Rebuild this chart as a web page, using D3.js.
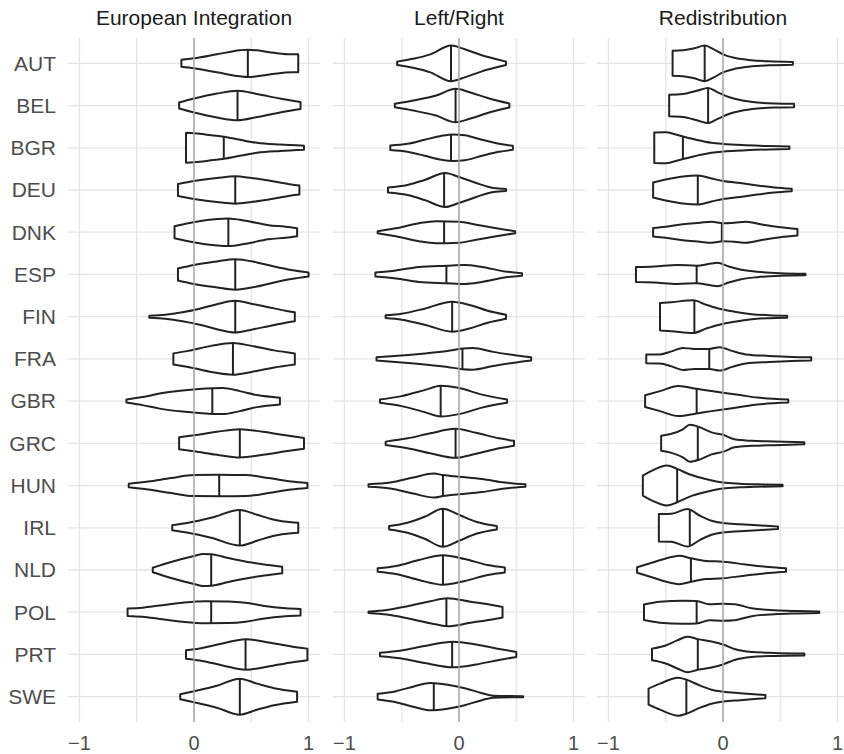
<!DOCTYPE html>
<html><head><meta charset="utf-8">
<script src="https://cdn.jsdelivr.net/npm/d3@7"></script>
<style>body{margin:0;background:#fff}svg{display:block}</style>
</head><body>
<svg id="c" width="844" height="754"></svg>
<script>
const countries = ["AUT","BEL","BGR","DEU","DNK","ESP","FIN","FRA","GBR","GRC","HUN","IRL","NLD","POL","PRT","SWE"];
const panels = ["European Integration","Left/Right","Redistribution"];
const xTicks = [-1, 0, 1];
const xGrid = [-1, -0.5, 0, 0.5, 1];

// medians per panel, in country order
const medianEI = [0.47,0.38,0.26,0.36,0.30,0.36,0.36,0.34,0.16,0.40,0.22,0.40,0.15,0.15,0.45,0.40];
const medianLR = [-0.07,-0.03,-0.07,-0.13,-0.13,-0.11,-0.06,0.03,-0.16,-0.03,-0.14,-0.14,-0.14,-0.11,-0.06,-0.22];
const medianRD = [-0.16,-0.13,-0.35,-0.22,-0.01,-0.23,-0.25,-0.12,-0.23,-0.22,-0.40,-0.29,-0.28,-0.23,-0.22,-0.32];

// density profiles: [position, density] (first/last = trimmed range)
const densityEI = [
 [[-0.11,3.5],[0,5],[0.2,9],[0.4,13],[0.47,13.7],[0.55,13],[0.7,10.5],[0.85,9],[0.91,9]],
 [[-0.13,3],[0,7],[0.2,12],[0.38,14.7],[0.55,11.5],[0.75,7],[0.93,3.5]],
 [[-0.07,15],[0.05,14],[0.15,12.5],[0.26,11],[0.4,8],[0.55,5],[0.75,3.2],[0.96,2]],
 [[-0.14,6],[0,9],[0.2,12],[0.36,13.7],[0.5,12],[0.7,8.5],[0.85,5.5],[0.92,4.5]],
 [[-0.17,6],[-0.05,9],[0.1,12],[0.3,13.8],[0.45,11.5],[0.65,7],[0.8,5.5],[0.9,4]],
 [[-0.14,6],[0,9.5],[0.2,13],[0.36,15.3],[0.55,12],[0.7,8],[0.85,4.5],[1.0,2]],
 [[-0.39,1],[-0.25,2],[-0.1,4.5],[0.05,8],[0.2,12.5],[0.36,15.8],[0.5,13],[0.65,9.5],[0.8,6],[0.88,4.5]],
 [[-0.18,5.5],[-0.05,8],[0.15,13],[0.34,15.8],[0.5,13],[0.7,8.5],[0.88,5.5]],
 [[-0.59,1.5],[-0.45,4],[-0.3,7.5],[-0.1,10.5],[0.16,12.8],[0.25,13],[0.4,10],[0.55,6],[0.75,3.3]],
 [[-0.13,6],[0,8],[0.2,11.5],[0.4,14.2],[0.6,11.5],[0.8,8],[0.96,5.3]],
 [[-0.57,1.7],[-0.4,4],[-0.2,7.5],[0,10.5],[0.22,10.7],[0.45,10.5],[0.65,7.5],[0.85,4],[0.99,2.5]],
 [[-0.19,2.5],[-0.05,5],[0.15,10],[0.4,17.8],[0.55,13],[0.7,8],[0.85,5.5],[0.91,5]],
 [[-0.36,2.3],[-0.2,8],[0,14],[0.08,16],[0.15,15.7],[0.3,12],[0.5,7.5],[0.65,5],[0.77,3.2]],
 [[-0.58,3.7],[-0.45,4.5],[-0.3,6.7],[-0.1,9.5],[0.1,11],[0.3,10.8],[0.45,9.5],[0.6,6.5],[0.8,4],[0.93,3.3]],
 [[-0.07,4.2],[0.05,6],[0.25,11],[0.45,15.3],[0.65,12],[0.85,8],[0.99,5.8]],
 [[-0.12,2.5],[0,5.5],[0.2,11],[0.4,18],[0.55,13],[0.7,8.5],[0.9,5]]
];
const densityLR = [
 [[-0.54,1.7],[-0.4,4.5],[-0.25,9],[-0.07,17.8],[0.05,14],[0.2,8],[0.33,4],[0.41,1.7]],
 [[-0.56,1.7],[-0.4,5],[-0.2,10],[-0.03,16.7],[0.1,13],[0.25,7.5],[0.44,2]],
 [[-0.6,2.3],[-0.45,4],[-0.3,8],[-0.15,12],[-0.05,13.3],[0.05,12.5],[0.2,8],[0.35,4],[0.47,2]],
 [[-0.62,2.5],[-0.45,5],[-0.3,10],[-0.12,17],[0,13],[0.15,7],[0.3,2],[0.41,1]],
 [[-0.71,1],[-0.55,4],[-0.35,9],[-0.2,11],[0,10.5],[0.15,7.5],[0.3,4.5],[0.49,1]],
 [[-0.73,2],[-0.55,4],[-0.35,7.5],[-0.11,8.8],[0.05,9.5],[0.2,7.5],[0.4,3],[0.55,1.3]],
 [[-0.64,1.3],[-0.5,3],[-0.3,8],[-0.06,15],[0.1,11.5],[0.25,6],[0.41,2]],
 [[-0.72,1.7],[-0.5,3.5],[-0.3,5.5],[-0.1,8],[0.03,10.3],[0.12,10.8],[0.3,7],[0.5,3.5],[0.63,1.7]],
 [[-0.69,1.7],[-0.5,5],[-0.3,11],[-0.16,15.3],[0,13],[0.2,6.5],[0.42,1.7]],
 [[-0.64,1.7],[-0.45,5],[-0.25,10],[-0.03,14.5],[0.15,10.5],[0.35,5],[0.48,2.5]],
 [[-0.79,1.3],[-0.6,3],[-0.4,8],[-0.22,12],[-0.14,10.5],[0,8.8],[0.2,6.5],[0.4,3],[0.58,1.3]],
 [[-0.61,1.7],[-0.45,5],[-0.3,11],[-0.14,19],[0,13],[0.15,6],[0.33,1.7]],
 [[-0.71,1.7],[-0.55,4],[-0.35,10],[-0.14,14.7],[0.05,11],[0.25,5],[0.4,2.5]],
 [[-0.79,0.7],[-0.63,2.3],[-0.45,6],[-0.25,11],[-0.1,14],[0.1,10.5],[0.3,7],[0.38,5.3]],
 [[-0.69,1.7],[-0.5,4],[-0.3,8.5],[-0.05,12.8],[0.15,10],[0.35,5.5],[0.5,2.5]],
 [[-0.71,2.8],[-0.55,5.5],[-0.4,10],[-0.25,13.7],[-0.1,12],[0.05,8.5],[0.2,3.5],[0.3,1],[0.56,0.5]]
];
const densityRD = [
 [[-0.44,12.5],[-0.35,13],[-0.25,15],[-0.16,17.8],[-0.08,14],[0,9],[0.1,5.5],[0.25,3],[0.4,2],[0.61,1.3]],
 [[-0.47,10.8],[-0.35,11.5],[-0.22,15],[-0.13,17.5],[-0.05,13.5],[0.05,8.5],[0.15,5.5],[0.3,3],[0.45,2],[0.62,1.7]],
 [[-0.6,15.3],[-0.5,15.5],[-0.42,13.5],[-0.35,11.3],[-0.25,8.5],[-0.1,5],[0,3.8],[0.2,2.5],[0.4,1.7],[0.58,1.3]],
 [[-0.61,7.5],[-0.5,10.5],[-0.35,13.5],[-0.22,14.5],[-0.1,11.5],[0,9],[0.15,7],[0.3,4.5],[0.45,2.5],[0.6,1.3]],
 [[-0.61,4.2],[-0.5,5.5],[-0.35,8],[-0.2,9.5],[-0.1,10.5],[0,9],[0.1,9.5],[0.2,10.5],[0.35,7.5],[0.5,5],[0.65,3.3]],
 [[-0.76,7.5],[-0.6,8],[-0.4,9.5],[-0.23,8.8],[-0.1,11],[-0.05,11.7],[0.05,8],[0.15,5],[0.3,2.7],[0.5,1.2],[0.72,0.7]],
 [[-0.55,13.7],[-0.45,14.5],[-0.26,16.3],[-0.15,12],[-0.05,8.5],[0.1,5],[0.25,2.5],[0.4,1.5],[0.56,1]],
 [[-0.67,4.3],[-0.55,4.5],[-0.45,7.5],[-0.35,11],[-0.25,10],[-0.12,10],[-0.03,11.7],[0.08,8],[0.2,4.5],[0.4,3],[0.6,2],[0.77,1.7]],
 [[-0.68,5.8],[-0.55,10],[-0.39,15],[-0.23,12.3],[-0.1,10],[0,8.3],[0.15,6],[0.3,3.5],[0.57,1.5]],
 [[-0.54,7.5],[-0.45,9.5],[-0.35,14],[-0.29,18.5],[-0.2,16],[-0.1,11],[0,8.5],[0.1,4],[0.25,2.5],[0.45,1.8],[0.71,1]],
 [[-0.7,10],[-0.6,16],[-0.49,20],[-0.4,16.7],[-0.3,11.5],[-0.15,6.5],[0,3],[0.15,1.8],[0.3,1.2],[0.52,0.7]],
 [[-0.56,13.7],[-0.45,14],[-0.31,18.8],[-0.2,12],[-0.1,7],[0,4.7],[0.15,3.5],[0.3,2.5],[0.48,1.2]],
 [[-0.75,2.8],[-0.6,8],[-0.45,13],[-0.38,14.2],[-0.28,11.7],[-0.15,9],[0,8.3],[0.2,5.5],[0.4,3],[0.55,1.7]],
 [[-0.69,7.8],[-0.55,10.5],[-0.35,11.5],[-0.23,11.2],[-0.12,8],[0,8.5],[0.1,8],[0.25,4],[0.45,2],[0.65,1.2],[0.84,0.7]],
 [[-0.62,5.8],[-0.5,9],[-0.4,14],[-0.31,17.8],[-0.22,15.3],[-0.1,13],[0,10],[0.1,5.5],[0.25,2.5],[0.45,1.5],[0.71,1]],
 [[-0.65,8],[-0.55,13],[-0.39,19],[-0.32,17],[-0.2,11],[-0.1,7],[0,5],[0.15,3.5],[0.3,2.2],[0.37,1.7]]
];

const medians = [medianEI, medianLR, medianRD];
const densities = [densityEI, densityLR, densityRD];

const svg = d3.select("#c");
const plotTop = 38, plotBottom = 722;
const panelLeft = [68, 333, 597];
const panelW = 252;
const y = d3.scalePoint().domain(countries).range([plotTop, plotBottom]).padding(0.6);
const w = d3.scaleLinear().domain([0, 21.1]).range([0, y.step() / 2]);
const font = "'Liberation Sans', Arial, sans-serif";
const ink = "#222";

function interp(prof, v) {
  for (let i = 0; i < prof.length - 1; i++) {
    const a = prof[i], b = prof[i+1];
    if (v >= a[0] && v <= b[0]) return a[1] + (b[1]-a[1]) * (v - a[0]) / (b[0]-a[0]);
  }
  return prof[0][1];
}

panels.forEach((title, p) => {
  const x = d3.scaleLinear().domain([-1.1, 1.1]).range([panelLeft[p], panelLeft[p] + panelW]);
  const g = svg.append("g");
  g.selectAll(".hg").data(countries).join("line")
    .attr("x1", x.range()[0]).attr("x2", x.range()[1])
    .attr("y1", d => y(d)).attr("y2", d => y(d))
    .attr("stroke", "#e4e4e4").attr("stroke-width", 1.3);
  g.selectAll(".vg").data(xGrid).join("line")
    .attr("x1", d => x(d)).attr("x2", d => x(d))
    .attr("y1", plotTop).attr("y2", plotBottom)
    .attr("stroke", "#e4e4e4").attr("stroke-width", 1.3);
  const area = d3.area()
    .x(d => x(d[0]))
    .y0(d => -w(d[1])).y1(d => w(d[1]))
    .curve(d3.curveMonotoneX);
  countries.forEach((c, i) => {
    const prof = densities[p][i];
    const vg = g.append("g").attr("transform", `translate(0,${y(c)})`);
    vg.append("path").attr("d", area(prof))
      .attr("fill", "#fff").attr("stroke", ink).attr("stroke-width", 2)
      .attr("stroke-linejoin", "round");
    const m = medians[p][i];
    const hw = w(interp(prof, m));
    vg.append("line").attr("x1", x(m)).attr("x2", x(m))
      .attr("y1", -hw).attr("y2", hw)
      .attr("stroke", ink).attr("stroke-width", 2);
  });
  g.append("line").attr("x1", x(0)).attr("x2", x(0)).attr("y1", plotTop).attr("y2", plotBottom)
    .attr("stroke", "#a6a6a6").attr("stroke-width", 1.5);
  g.append("text").attr("x", (x.range()[0] + x.range()[1]) / 2).attr("y", 25)
    .attr("text-anchor", "middle").attr("font-family", font).attr("font-size", 21)
    .attr("fill", "#1a1a1a").text(title);
  g.selectAll(".xt").data(xTicks).join("text")
    .attr("x", d => x(d)).attr("y", 750)
    .attr("text-anchor", "middle").attr("font-family", font).attr("font-size", 20)
    .attr("fill", "#4d4d4d").text(d => d < 0 ? "\u2212" + Math.abs(d) : d);
});

svg.selectAll(".yl").data(countries).join("text")
  .attr("x", 56).attr("y", d => y(d)).attr("dy", "0.35em")
  .attr("text-anchor", "end").attr("font-family", font).attr("font-size", 21)
  .attr("fill", "#4d4d4d").text(d => d);
</script>
</body></html>
